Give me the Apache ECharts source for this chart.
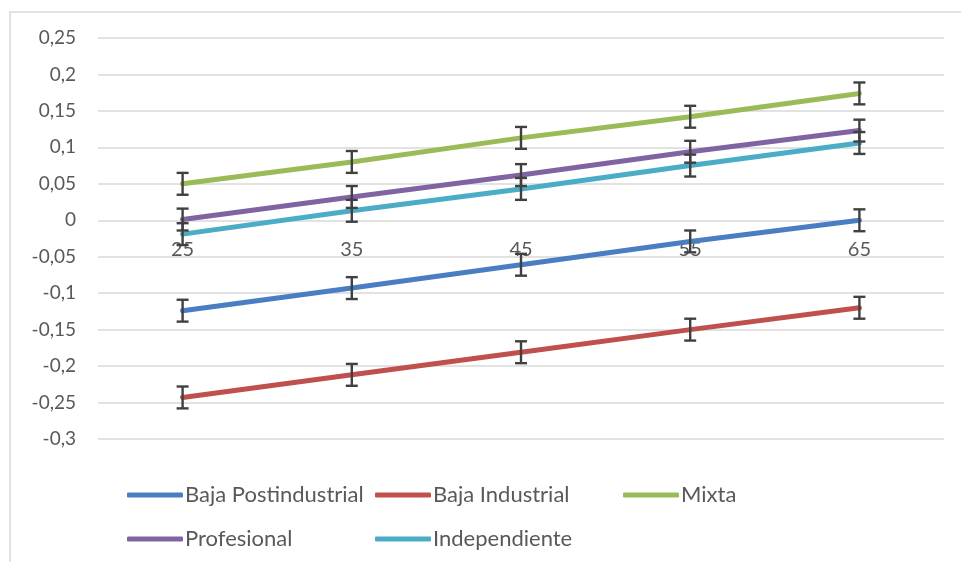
<!DOCTYPE html>
<html>
<head>
<meta charset="utf-8">
<script src="https://cdn.jsdelivr.net/npm/echarts@6/dist/echarts.min.js"></script>
<style>
  html, body { margin: 0; padding: 0; background: #fff; }
  #chart { width: 961px; height: 562px; }
</style>
</head>
<body>
<div id="chart"></div>
<script>
// edades (eje x)
var edades = ['25', '35', '45', '55', '65'];

// valores por grupo
var bajaPostindustrial = [-0.124, -0.093, -0.061, -0.029, 0.0];
var bajaIndustrial = [-0.243, -0.212, -0.181, -0.150, -0.120];
var mixta = [0.050, 0.080, 0.113, 0.142, 0.174];
var profesional = [0.001, 0.032, 0.062, 0.094, 0.123];
var independiente = [-0.019, 0.013, 0.043, 0.075, 0.106];

// error (+/-) de cada punto
var errBajaPost = [0.015, 0.015, 0.015, 0.015, 0.015];
var errBajaInd = [0.015, 0.015, 0.015, 0.015, 0.015];
var errMixta = [0.015, 0.015, 0.015, 0.015, 0.015];
var errProf = [0.015, 0.015, 0.015, 0.015, 0.015];
var errIndep = [0.015, 0.015, 0.015, 0.015, 0.015];

var nombres = ['Baja Postindustrial', 'Baja Industrial', 'Mixta', 'Profesional', 'Independiente'];
var colores = ['#4A7EC2', '#C0504D', '#9BBB59', '#8064A2', '#4BACC6'];
var valores = [bajaPostindustrial, bajaIndustrial, mixta, profesional, independiente];
var errores = [errBajaPost, errBajaInd, errMixta, errProf, errIndep];

var fuente = 'Lato';
var gris = '#595959';

var yMin = -0.3, yMax = 0.25;
var gridTop = 38, gridBottom = 123, altoChart = 562;

var myChart = echarts.init(document.getElementById('chart'));

var series = [];
for (var i = 0; i < nombres.length; i++) {
    series.push({
        name: nombres[i],
        type: 'line',
        data: valores[i],
        symbol: 'none',
        lineStyle: { width: 5, color: colores[i], cap: 'round' },
        itemStyle: { color: colores[i] },
        z: 2
    });
}

// barras de error
for (var i = 0; i < nombres.length; i++) {
    var errData = [];
    for (var j = 0; j < edades.length; j++) {
        errData.push([j, valores[i][j] - errores[i][j], valores[i][j] + errores[i][j]]);
    }
    series.push({
        type: 'custom',
        name: 'err' + i,
        data: errData,
        z: 5,
        silent: true,
        renderItem: function (params, api) {
            var lo = api.coord([api.value(0), api.value(1)]);
            var hi = api.coord([api.value(0), api.value(2)]);
            var w = 6;
            var st = { stroke: '#404040', lineWidth: 2.4 };
            return {
                type: 'group',
                children: [
                    { type: 'line', shape: { x1: lo[0], y1: lo[1], x2: hi[0], y2: hi[1] }, style: st },
                    { type: 'line', shape: { x1: lo[0] - w, y1: lo[1], x2: lo[0] + w, y2: lo[1] }, style: st },
                    { type: 'line', shape: { x1: hi[0] - w, y1: hi[1], x2: hi[0] + w, y2: hi[1] }, style: st }
                ]
            };
        }
    });
}

// leyendas en dos filas
var posLeyenda = [[122, 479], [370, 479], [618, 479], [122, 523], [370, 523]];
var legends = [];
for (var i = 0; i < nombres.length; i++) {
    legends.push({
        data: [nombres[i]],
        left: posLeyenda[i][0],
        top: posLeyenda[i][1],
        icon: 'roundRect',
        itemWidth: 56,
        itemHeight: 5,
        selectedMode: false,
        textStyle: { fontFamily: fuente, fontSize: 22, color: gris, padding: [0, 0, 0, -3] }
    });
}

// el eje x se dibuja sobre la línea del cero
var altoGrid = altoChart - gridTop - gridBottom;
var offsetCero = -altoGrid * (0 - yMin) / (yMax - yMin);

var option = {
    animation: false,
    backgroundColor: '#fff',
    graphic: [{
        type: 'rect',
        shape: { x: 10, y: 12, width: 960, height: 560 },
        style: { fill: 'none', stroke: '#d9d9d9', lineWidth: 1.5 },
        silent: true
    }],
    legend: legends,
    grid: { left: 98, right: 17, top: gridTop, bottom: gridBottom },
    xAxis: {
        type: 'category',
        data: edades,
        position: 'bottom',
        offset: offsetCero,
        axisLine: { show: false, onZero: false },
        axisTick: { show: false },
        axisLabel: { fontFamily: fuente, fontSize: 20, color: gris, margin: 19 }
    },
    yAxis: {
        type: 'value',
        min: yMin,
        max: yMax,
        interval: 0.05,
        axisLine: { show: false },
        axisTick: { show: false },
        splitLine: { lineStyle: { color: '#d9d9d9', width: 1.5 } },
        axisLabel: {
            fontFamily: fuente, fontSize: 19, color: gris, margin: 22,
            formatter: function (v) {
                return String(Math.round(v * 100) / 100).replace('.', ',');
            }
        }
    },
    series: series
};

myChart.setOption(option);
</script>
</body>
</html>
